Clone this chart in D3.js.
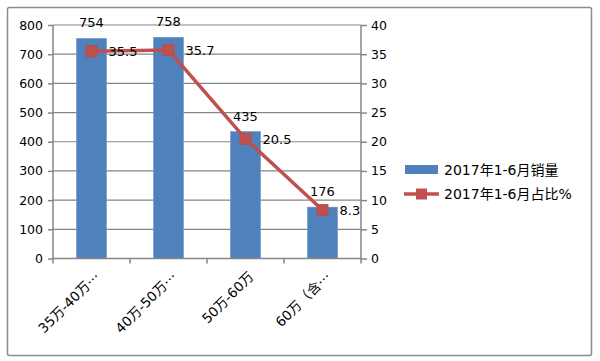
<!DOCTYPE html>
<html><head><meta charset="utf-8">
<script src="https://cdn.jsdelivr.net/npm/d3@7"></script>
<style>
body{margin:0;background:#fff;}
svg text{font-family:"DejaVu Sans","Noto Sans CJK SC",sans-serif;fill:#000;}
</style></head>
<body><svg id="c" width="600" height="361"></svg>
<script>
const categories = ["35万-40万⋯","40万-50万⋯","50万-60万","60万（含⋯"];
const sales = [754, 758, 435, 176];
const share = [35.5, 35.7, 20.5, 8.3];
const leftTicks = [0,100,200,300,400,500,600,700,800];
const rightTicks = [0,5,10,15,20,25,30,35,40];
const seriesNames = ["2017年1-6月销量","2017年1-6月占比%"];

const svg = d3.select("#c");
const blue = "#4f81bd", red = "#c0504d", grid = "#868686";
const fs = 12.5;

svg.append("rect").attr("x",7.5).attr("y",7.5).attr("width",584).attr("height",348)
  .attr("fill","#fff").attr("stroke","#8c8c8c").attr("stroke-width",1.5).attr("rx",2);

const x0 = 53, x1 = 361, yTop = 25, yBot = 258.5;
const x = d3.scaleBand().domain(categories).range([x0,x1]).paddingInner(0.61).paddingOuter(0.305);
const xb = d3.scaleBand().domain(categories).range([x0,x1]);
const yL = d3.scaleLinear().domain([0,800]).range([yBot,yTop]);
const yR = d3.scaleLinear().domain([0,40]).range([yBot,yTop]);

// gridlines
svg.append("g").selectAll("line").data(leftTicks.slice(1)).join("line")
  .attr("x1",x0).attr("x2",x1).attr("y1",d=>yL(d)).attr("y2",d=>yL(d))
  .attr("stroke",grid).attr("stroke-width",1.2);

// bars
svg.append("g").selectAll("rect").data(sales).join("rect")
  .attr("x",(d,i)=>x(categories[i])).attr("width",x.bandwidth())
  .attr("y",d=>yL(d)).attr("height",d=>yBot-yL(d)).attr("fill",blue)
  .attr("stroke","#6f97cc").attr("stroke-width",0.6);

// left axis
const gL = svg.append("g").attr("transform",`translate(${x0},0)`)
  .call(d3.axisLeft(yL).tickValues(leftTicks).tickSize(5).tickPadding(5).tickFormat(d3.format("d")));
gL.selectAll("path,line").attr("stroke",grid).attr("stroke-width",1.5);
gL.select(".domain").attr("d",`M0,${yTop}V${yBot}`);
gL.selectAll("text").attr("font-size",fs).attr("font-family",null);

// right axis
const gR = svg.append("g").attr("transform",`translate(${x1},0)`)
  .call(d3.axisRight(yR).tickValues(rightTicks).tickSize(6).tickPadding(4));
gR.selectAll("path,line").attr("stroke",grid).attr("stroke-width",1.5);
gR.select(".domain").attr("d",`M0,${yTop}V${yBot}`);
gR.selectAll("text").attr("font-size",fs).attr("font-family",null);

// bottom axis
const gB = svg.append("g").attr("transform",`translate(0,${yBot})`)
  .call(d3.axisBottom(xb).tickSize(0).tickFormat(""));
gB.select(".domain").attr("d",`M${x0},0H${x1}`).attr("stroke",grid).attr("stroke-width",1.5);
gB.append("g").selectAll("line").data([...categories.map(c=>xb(c)), x1]).join("line")
  .attr("x1",d=>d).attr("x2",d=>d).attr("y1",0).attr("y2",5).attr("stroke",grid).attr("stroke-width",1.5);
gB.append("g").selectAll("text").data(categories).join("text")
  .attr("transform",d=>`translate(${xb(d)+xb.bandwidth()/2+9},${19}) rotate(-45)`)
  .attr("text-anchor","end").attr("font-size",13.5).text(d=>d);

// bar labels
svg.append("g").selectAll("text").data(sales).join("text")
  .attr("x",(d,i)=>xb(categories[i])+xb.bandwidth()/2).attr("y",d=>yL(d)-11)
  .attr("text-anchor","middle").attr("font-size",13).text(d=>d);

// line
const cx = i => xb(categories[i])+xb.bandwidth()/2;
svg.append("path").datum(share)
  .attr("d",d3.line().x((d,i)=>cx(i)).y(d=>yR(d)))
  .attr("fill","none").attr("stroke",red).attr("stroke-width",3.5);
svg.append("g").selectAll("rect").data(share).join("rect")
  .attr("x",(d,i)=>cx(i)-5.5).attr("y",d=>yR(d)-5.5).attr("width",11).attr("height",11)
  .attr("fill",red).attr("stroke","#b94a47").attr("stroke-width",0.8);
svg.append("g").selectAll("text").data(share).join("text")
  .attr("x",(d,i)=>cx(i)+17).attr("y",d=>yR(d)+5)
  .attr("font-size",13).text(d=>d3.format(".1f")(d));

// legend
const lg = svg.append("g");
lg.append("rect").attr("x",405).attr("y",165).attr("width",33).attr("height",9).attr("fill",blue);
lg.append("text").attr("x",444).attr("y",175).attr("font-size",14).text(seriesNames[0]);
lg.append("line").attr("x1",404).attr("x2",439).attr("y1",194).attr("y2",194).attr("stroke",red).attr("stroke-width",3.5);
lg.append("rect").attr("x",416).attr("y",188.5).attr("width",11).attr("height",11).attr("fill",red);
lg.append("text").attr("x",444).attr("y",199).attr("font-size",14).text(seriesNames[1]);
</script></body></html>
